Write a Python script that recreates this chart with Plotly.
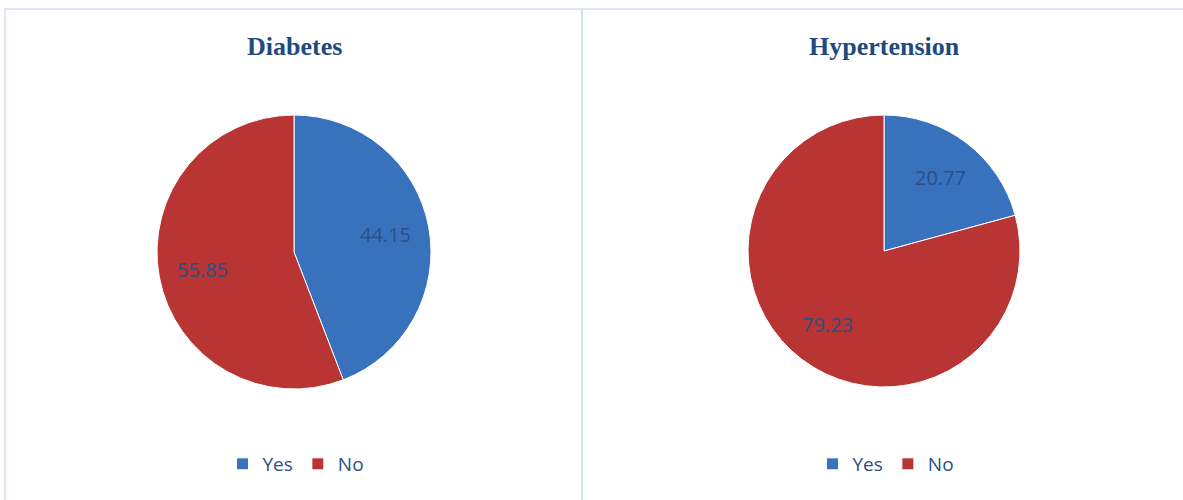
import math
import plotly.graph_objects as go

W, H = 1183, 500

labels = ["Yes", "No"]
diabetes_values = [44.15, 55.85]
hypertension_values = [20.77, 79.23]
titles = ["Diabetes", "Hypertension"]
colors = ["#3871BC", "#B93533"]

label_color = "#2C4F86"
title_color = "#1F4A7E"

# pie domains (paper coords)
domains = [
    dict(x=[157 / W, 431 / W], y=[1 - 389 / H, 1 - 115 / H]),
    dict(x=[748 / W, 1020 / W], y=[1 - 387 / H, 1 - 115 / H]),
]
series = [diabetes_values, hypertension_values]
legend_names = ["legend", "legend2"]
# zero-width suffix keeps second chart's legend entries distinct
label_sets = [labels, [l + "\u200b" for l in labels]]

fig = go.Figure()
annotations = []
for i, (vals, dom) in enumerate(zip(series, domains)):
    fig.add_trace(go.Pie(
        labels=label_sets[i], values=vals, sort=False, direction="clockwise",
        rotation=0, domain=dom, textinfo="none", hoverinfo="label+value",
        marker=dict(colors=colors, line=dict(color="white", width=1)),
        legend=legend_names[i], showlegend=True,
    ))
    # data labels along each slice's mid-angle
    cx = (dom["x"][0] + dom["x"][1]) / 2
    cy = (dom["y"][0] + dom["y"][1]) / 2
    r_px = min((dom["x"][1] - dom["x"][0]) * W, (dom["y"][1] - dom["y"][0]) * H) / 2
    total = sum(vals)
    cum = 0.0
    for v in vals:
        mid = (cum + v / 2) / total * 2 * math.pi
        cum += v
        dx = 0.68 * r_px * math.sin(mid)
        dy = 0.68 * r_px * math.cos(mid)
        annotations.append(dict(
            x=cx + dx / W, y=cy + dy / H, xref="paper", yref="paper",
            xanchor="center", yanchor="middle",
            text=f"{v:.2f}", showarrow=False,
            font=dict(family="Open Sans", size=20, color=label_color),
        ))
    annotations.append(dict(
        x=cx, y=1 - 47 / H, xref="paper", yref="paper", text=f"<b>{titles[i]}</b>",
        showarrow=False, xanchor="center", yanchor="middle",
        font=dict(family="Liberation Serif", size=26, color=title_color),
    ))

legend_common = dict(
    orientation="h", xanchor="center", yanchor="middle", y=1 - 464 / H,
    font=dict(family="Open Sans", size=19, color=label_color),
    bgcolor="rgba(0,0,0,0)", itemwidth=30, tracegroupgap=0,
)

border = "#D3DFEE"
shapes = [
    dict(type="rect", xref="paper", yref="paper", x0=5 / W, x1=582 / W,
         y0=-0.05, y1=1 - 9 / H, line=dict(color=border, width=1.5)),
    dict(type="rect", xref="paper", yref="paper", x0=582 / W, x1=1.05,
         y0=-0.05, y1=1 - 9 / H, line=dict(color=border, width=1.5)),
]

fig.update_layout(
    width=W, height=H, margin=dict(l=0, r=0, t=0, b=0),
    paper_bgcolor="white", plot_bgcolor="white",
    annotations=annotations, shapes=shapes,
    legend=dict(x=296 / W, **legend_common),
    legend2=dict(x=886 / W, **legend_common),
)

fig.write_html("out.html")
